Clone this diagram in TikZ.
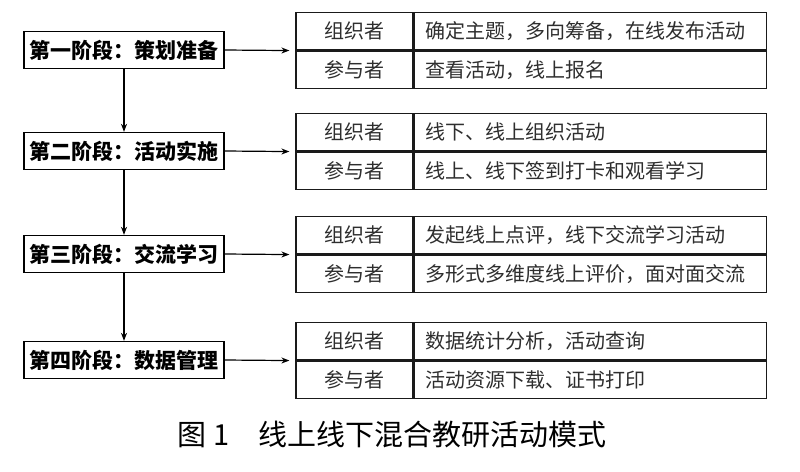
\documentclass[tikz,border=0pt]{standalone}
\usepackage{fontspec}
\setmainfont{Noto Sans CJK SC}
\usetikzlibrary{arrows.meta, positioning}
\definecolor{cline}{HTML}{1a1a1a}
\definecolor{ctext}{HTML}{2e2e2e}

\begin{document}
\begin{tikzpicture}[
  x=1pt, y=-1pt,
  >={Stealth[length=8pt, width=6pt]},
  stage/.style={draw=black, line width=1.3pt, minimum width=200pt, minimum height=37pt,
                inner sep=0pt, font=\fontsize{21}{21}\selectfont\bfseries},
  role/.style={draw=cline, line width=1.2pt, minimum width=117pt, minimum height=37.5pt,
               inner sep=0pt, text=ctext, font=\fontsize{20}{20}\selectfont},
  task/.style={draw=cline, line width=1.2pt, text width=330pt, inner xsep=11pt, inner ysep=0pt,
               minimum height=37.5pt, align=left, text=ctext, font=\fontsize{20}{20}\selectfont},
  arr/.style={->, line width=1.2pt, draw=black},
  ]
\useasboundingbox (0,0) rectangle (800,471);

\node[stage] (s1) at (124,50)  {第一阶段：策划准备};
\node[stage] (s2) at (124,151) {第二阶段：活动实施};
\node[stage] (s3) at (124,254) {第三阶段：交流学习};
\node[stage] (s4) at (124,360) {第四阶段：数据管理};

\node[role] (o1) at (354.5,31.25)  {组织者};
\node[role, below=0pt of o1] (p1) {参与者};
\node[task, right=0pt of o1] (t1o) {确定主题，多向筹备，在线发布活动};
\node[task, right=0pt of p1] (t1p) {查看活动，线上报名};

\node[role] (o2) at (354.5,132.25) {组织者};
\node[role, below=0pt of o2] (p2) {参与者};
\node[task, right=0pt of o2] (t2o) {线下、线上组织活动};
\node[task, right=0pt of p2] (t2p) {线上、线下签到打卡和观看学习};

\node[role] (o3) at (354.5,235.25) {组织者};
\node[role, below=0pt of o3] (p3) {参与者};
\node[task, right=0pt of o3] (t3o) {发起线上点评，线下交流学习活动};
\node[task, right=0pt of p3] (t3p) {多形式多维度线上评价，面对面交流};

\node[role] (o4) at (354.5,341.25) {组织者};
\node[role, below=0pt of o4] (p4) {参与者};
\node[task, right=0pt of o4] (t4o) {数据统计分析，活动查询};
\node[task, right=0pt of p4] (t4p) {活动资源下载、证书打印};

\draw[arr] (s1) -- (s2);
\draw[arr] (s2) -- (s3);
\draw[arr] (s3) -- (s4);

\draw[arr, shorten >=6pt] (s1.east) -- (o1.south west);
\draw[arr, shorten >=6pt] (s2.east) -- (o2.south west);
\draw[arr, shorten >=6pt] (s3.east) -- (o3.south west);
\draw[arr, shorten >=6pt] (s4.east) -- (o4.south west);

\node[font=\fontsize{29}{29}\selectfont] (cap) at (392,434) {图~1\quad 线上线下混合教研活动模式};
\end{tikzpicture}
\end{document}
